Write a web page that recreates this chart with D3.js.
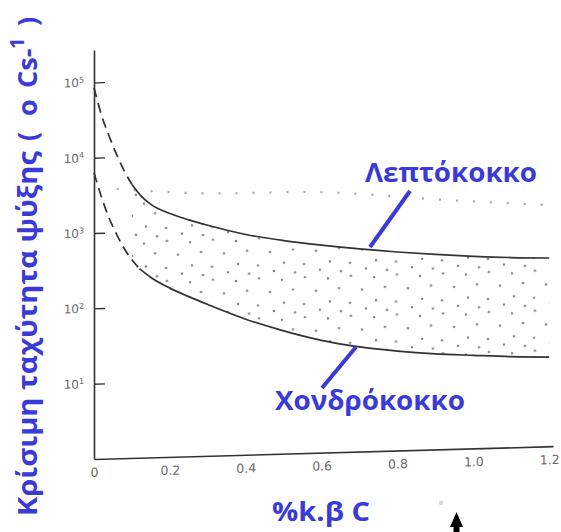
<!DOCTYPE html>
<html>
<head>
<meta charset="utf-8">
<script src="https://cdn.jsdelivr.net/npm/d3@7"></script>
<style>
  html, body { margin: 0; padding: 0; background: #fff; }
  svg { display: block; }
  .title { font-family: "Open Sans", "Noto Sans", sans-serif; font-weight: 700; fill: #3a3ad8; }
  .tick text { font-family: "DejaVu Sans", sans-serif; fill: #6a6a6a; }
</style>
</head>
<body>
<svg id="chart" width="561" height="532"></svg>
<script>
// Carbon content (% C) and critical cooling rate (°C/s)
const xTicks = [0, 0.2, 0.4, 0.6, 0.8, 1.0, 1.2];
const xTickLabels = ["0", "0.2", "0.4", "0.6", "0.8", "1.0", "1.2"];
const yTicks = [1e1, 1e2, 1e3, 1e4, 1e5];
const yTickExponents = ["1", "2", "3", "4", "5"];

// fine-grained steel (Λεπτόκοκκο)
const fineCarbon = [0, 0.02, 0.04, 0.06, 0.08, 0.10, 0.125, 0.15, 0.2, 0.25, 0.3, 0.4, 0.5, 0.6, 0.7, 0.8, 0.9, 1.0, 1.1, 1.2];
const fineRate   = [85100, 36300, 19050, 10700, 6460, 4270, 2950, 2290, 1700, 1380, 1150, 841, 676, 569, 490, 432, 389, 355, 331, 316];
const fineDashedUntil = 0.10;

// coarse-grained steel (Χονδρόκοκκο)
const coarseCarbon = [0, 0.02, 0.04, 0.06, 0.08, 0.10, 0.12, 0.15, 0.2, 0.25, 0.3, 0.4, 0.5, 0.6, 0.7, 0.8, 0.9, 1.0, 1.1, 1.2];
const coarseRate   = [6310, 2950, 1550, 933, 603, 427, 324, 245, 174, 132, 102, 63.1, 42.7, 30.9, 24.5, 20.9, 18.6, 17.2, 16.0, 15.3];
const coarseDashedUntil = 0.12;

// faint dotted row above the band
const rowCarbon = [0.06, 0.35, 0.53, 0.97, 1.2];
const rowRate   = [3770, 3000, 2950, 1950, 1590];

const bandFrom = 0.10;

const svg = d3.select("#chart");
const ink = "#333";
const blue = "#3a3ad8";

const yTop = Math.pow(10, 5.43);
const x = d3.scaleLinear().domain([0, 1.21]).range([0, 459]);
const y = d3.scaleLog().domain([1, yTop]).range([459, 50]);

// plot frame, slightly sheared like a scanned page
const plot = svg.append("g").attr("transform", "translate(94,0) skewY(-1.6)");

const fine = fineCarbon.map((c, i) => [c, fineRate[i]]);
const coarse = coarseCarbon.map((c, i) => [c, coarseRate[i]]);
const row = rowCarbon.map((c, i) => [c, rowRate[i]]);

const line = d3.line().x(d => x(d[0])).y(d => y(d[1])).curve(d3.curveMonotoneX);

// stipple pattern between the two curves
const defs = svg.append("defs");
const pat = defs.append("pattern").attr("id", "stipple").attr("patternUnits", "userSpaceOnUse")
  .attr("width", 46).attr("height", 40);
[[4, 5], [27, 3], [15, 15], [38, 17], [6, 28], [26, 30], [42, 36], [17, 38]].forEach(p => {
  pat.append("circle").attr("cx", p[0]).attr("cy", p[1]).attr("r", 1.2).attr("fill", "#7d7d7d");
});

const belowFine = d3.area().x(d => x(d[0])).y0(y(1)).y1(d => y(d[1])).curve(d3.curveMonotoneX);
const aboveCoarse = d3.area().x(d => x(d[0])).y0(d => y(d[1])).y1(0).curve(d3.curveMonotoneX);
defs.append("clipPath").attr("id", "clipFine").append("path").attr("d", belowFine(fine));
defs.append("clipPath").attr("id", "clipCoarse").append("path").attr("d", aboveCoarse(coarse));

plot.append("g").attr("clip-path", "url(#clipFine)")
  .append("g").attr("clip-path", "url(#clipCoarse)")
  .append("rect")
  .attr("x", x(bandFrom)).attr("y", y(yTop))
  .attr("width", x(1.21) - x(bandFrom)).attr("height", y(1) - y(yTop))
  .attr("fill", "url(#stipple)");

plot.append("path").attr("d", line(row)).attr("fill", "none")
  .attr("stroke", "#a8a8a8").attr("stroke-width", 2.2).attr("stroke-dasharray", "2 15");

// curves: dashed near 0 %C, solid afterwards
function drawCurve(pts, until) {
  plot.append("path").attr("d", line(pts.filter(d => d[0] <= until)))
    .attr("fill", "none").attr("stroke", ink).attr("stroke-width", 1.7).attr("stroke-dasharray", "10 6");
  plot.append("path").attr("d", line(pts.filter(d => d[0] >= until)))
    .attr("fill", "none").attr("stroke", ink).attr("stroke-width", 1.7);
}
drawCurve(fine, fineDashedUntil);
drawCurve(coarse, coarseDashedUntil);

// axes
const xAxis = d3.axisBottom(x).tickValues(xTicks).tickFormat((d, i) => xTickLabels[i])
  .tickSize(0).tickPadding(9);
const gx = plot.append("g").attr("transform", `translate(0,${y(1)})`).call(xAxis);
gx.select(".domain").attr("stroke", ink).attr("stroke-width", 1.6);
gx.selectAll(".tick text").attr("font-size", 12.5);

const yAxis = d3.axisLeft(y).tickValues(yTicks).tickFormat(() => "")
  .tickSizeInner(-11).tickSizeOuter(0).tickPadding(10);
const gy = plot.append("g").call(yAxis);
gy.select(".domain").attr("stroke", ink).attr("stroke-width", 1.6);
gy.selectAll(".tick line").attr("stroke", ink).attr("stroke-width", 1.4);
gy.selectAll(".tick text").each(function(d, i) {
  const t = d3.select(this).attr("font-size", 12);
  t.append("tspan").text("10");
  t.append("tspan").attr("font-size", 8).attr("dy", "-0.55em").text(yTickExponents[i]);
});

// annotations
svg.append("line").attr("x1", 410).attr("y1", 191).attr("x2", 370).attr("y2", 247)
  .attr("stroke", blue).attr("stroke-width", 4);
svg.append("line").attr("x1", 356).attr("y1", 347).attr("x2", 322).attr("y2", 388)
  .attr("stroke", blue).attr("stroke-width", 4);

svg.append("text").attr("class", "title").attr("x", 365).attr("y", 182)
  .attr("font-size", 26).attr("textLength", 172).attr("lengthAdjust", "spacingAndGlyphs")
  .text("Λεπτόκοκκο");
svg.append("text").attr("class", "title").attr("x", 275).attr("y", 410)
  .attr("font-size", 26).attr("textLength", 190).attr("lengthAdjust", "spacingAndGlyphs")
  .text("Χονδρόκοκκο");

svg.append("text").attr("class", "title").attr("x", 272).attr("y", 521)
  .attr("font-size", 27).attr("textLength", 98).attr("lengthAdjust", "spacingAndGlyphs")
  .text("%k.β C");

// y title, rotated; unit pieces placed along the same baseline
const yt = svg.append("g").attr("transform", "translate(37,516) rotate(-90)");
yt.append("text").attr("class", "title").attr("x", 0).attr("y", 0)
  .attr("font-size", 27).attr("textLength", 365).attr("lengthAdjust", "spacingAndGlyphs")
  .text("Κρίσιμη ταχύτητα ψύξης");
const unitParts = [
  { t: "(", u: 375, v: 0, s: 27 },
  { t: "o", u: 400, v: 0, s: 27 },
  { t: "Cs-", u: 428, v: 0, s: 27 },
  { t: "1", u: 467, v: -13, s: 20 },
  { t: ")", u: 490, v: 0, s: 27 }
];
unitParts.forEach(p => {
  yt.append("text").attr("class", "title").attr("x", p.u).attr("y", p.v)
    .attr("font-size", p.s).text(p.t);
});

// arrow marker at the bottom
svg.append("path").attr("d", "M456.5,512 L463,527 L459.5,527 L459.5,532 L453.5,532 L453.5,527 L450,527 Z")
  .attr("fill", "#000");
svg.append("circle").attr("cx", 441).attr("cy", 503).attr("r", 2.2).attr("fill", "#bbb").attr("opacity", 0.6);
</script>
</body>
</html>
